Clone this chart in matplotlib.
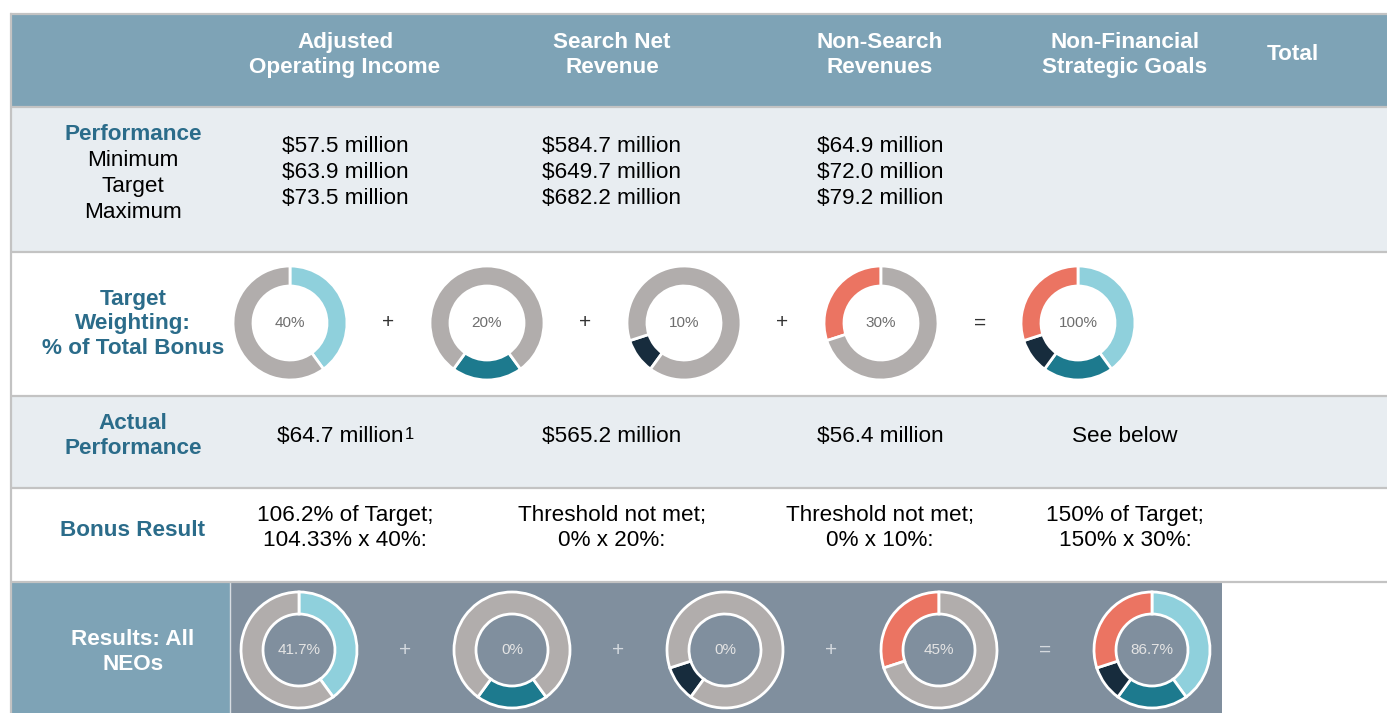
import matplotlib.pyplot as plt
from matplotlib.patches import Rectangle

W, H = 1387, 713

# ---- table content ----
col_headers = ["Adjusted\nOperating Income", "Search Net\nRevenue", "Non-Search\nRevenues",
               "Non-Financial\nStrategic Goals", "Total"]
perf_levels = ["Minimum", "Target", "Maximum"]
perf_min = [57.5, 584.7, 64.9]
perf_target = [63.9, 649.7, 72.0]
perf_max = [73.5, 682.2, 79.2]
actual = [64.7, 565.2, 56.4]
actual_goals = "See below"
bonus_result = ["106.2% of Target;\n104.33% x 40%:",
                "Threshold not met;\n0% x 20%:",
                "Threshold not met;\n0% x 10%:",
                "150% of Target;\n150% x 30%:"]
weights = [40, 20, 10, 30]
result_labels = ["41.7%", "0%", "0%", "45%", "86.7%"]

# ---- style ----
HEAD_BG = "#7ea3b6"
STRIP_BG = "#808f9e"
LIGHT_BG = "#e8edf1"
GRID = "#c3c3c3"
LABEL_C = "#2b6c8a"
GRAY = "#b1adac"
seg_colors = ["#8fd0dc", "#1d7a8e", "#172c3d", "#eb7462"]
FS = 16.2
LS = 1.22
plt.rcParams["font.family"] = ["Liberation Sans", "DejaVu Sans"]

col_x = [345, 612, 880, 1125, 1293]
lab_x = 133


def Y(y):
    # top-based pixel row -> data y (text baseline sits a touch high, so +2)
    return H - y


fig = plt.figure(figsize=(W / 100, H / 100), dpi=100)
ax = fig.add_axes([0, 0, 1, 1])

# backgrounds
ax.add_patch(Rectangle((10, Y(107)), W - 10, 93, color=HEAD_BG, lw=0))
ax.add_patch(Rectangle((10, Y(252)), W - 10, 145, color=LIGHT_BG, lw=0))
ax.add_patch(Rectangle((10, Y(488)), W - 10, 92, color=LIGHT_BG, lw=0))
ax.add_patch(Rectangle((10, 0), 220, Y(582), color=HEAD_BG, lw=0))
ax.add_patch(Rectangle((230, 0), 992, Y(582), color=STRIP_BG, lw=0))
ax.plot([230, 230], [0, Y(582)], color="#d8dde2", lw=1)
for gy in [14, 107, 252, 396, 488, 582]:
    ax.plot([10, W], [Y(gy), Y(gy)], color=GRID, lw=1.6, solid_capstyle="butt")
ax.plot([10.5, 10.5], [0, Y(14)], color=GRID, lw=1.6)

# header
for x, t in zip(col_x, col_headers):
    ax.text(x, Y(55), t, ha="center", va="center", color="white", fontsize=FS,
            fontweight="bold", linespacing=LS)

# row labels
ax.text(lab_x, Y(135), "Performance", ha="center", va="center", color=LABEL_C,
        fontsize=FS, fontweight="bold")
for i, t in enumerate(perf_levels):
    ax.text(lab_x, Y(161 + 25.5 * i), t, ha="center", va="center", fontsize=FS)
ax.text(lab_x, Y(324), "Target\nWeighting:\n% of Total Bonus", ha="center", va="center",
        color=LABEL_C, fontsize=FS, fontweight="bold", linespacing=LS)
ax.text(lab_x, Y(436), "Actual\nPerformance", ha="center", va="center",
        color=LABEL_C, fontsize=FS, fontweight="bold", linespacing=LS)
ax.text(lab_x, Y(530), "Bonus Result", ha="center", va="center",
        color=LABEL_C, fontsize=FS, fontweight="bold")
ax.text(lab_x, Y(652), "Results: All\nNEOs", ha="center", va="center",
        color="white", fontsize=FS, fontweight="bold", linespacing=LS)

# performance values
for x, a, b, c in zip(col_x, perf_min, perf_target, perf_max):
    for j, v in enumerate([a, b, c]):
        ax.text(x, Y(147 + 25.5 * j), f"${v:.1f} million", ha="center", va="center",
                fontsize=FS, parse_math=False)

# actual performance
for i, (x, v) in enumerate(zip(col_x, actual)):
    t = ax.text(x - (5 if i == 0 else 0), Y(436), f"${v:.1f} million", ha="center",
                va="center", fontsize=FS, parse_math=False)
    if i == 0:
        ax.annotate("1", xy=(1, 0.95), xycoords=t, xytext=(1, 0),
                    textcoords="offset points", ha="left", va="top", fontsize=12)
ax.text(col_x[3], Y(436), actual_goals, ha="center", va="center", fontsize=FS)

# bonus result
for x, t in zip(col_x, bonus_result):
    ax.text(x, Y(528), t, ha="center", va="center", fontsize=FS, linespacing=LS)


def donut(cx, cy, vals, cols, start, r, w, label, tcolor):
    ax.pie(vals, colors=cols, startangle=start, counterclock=False, radius=r,
           center=(cx, cy), frame=True,
           wedgeprops=dict(width=w, edgecolor="white", linewidth=2))
    ax.text(cx, cy, label, ha="center", va="center", fontsize=11, color=tcolor,
            family=["Liberation Sans Narrow", "Liberation Sans"])


def donut_row(xs, cy, r, w, labels, tcolor, sign_xs, sign_color):
    cum = 0
    for i, wt in enumerate(weights):
        donut(xs[i], cy, [wt, 100 - wt], [seg_colors[i], GRAY], 90 - 3.6 * cum,
              r, w, labels[i], tcolor)
        cum += wt
    donut(xs[4], cy, weights, seg_colors, 90, r, w, labels[4], tcolor)
    for k, sx in enumerate(sign_xs):
        ax.text(sx, cy, "=" if k == 3 else "+", ha="center", va="center",
                fontsize=15, color=sign_color)


weight_labels = [f"{w}%" for w in weights] + [f"{sum(weights)}%"]
donut_row([290, 487, 684, 881, 1078], Y(323), 57, 20, weight_labels, "#6e6e6e",
          [388, 585, 782, 980], "#333333")
donut_row([299, 512, 725, 939, 1152], Y(650), 58, 22, result_labels, "#e4e4e4",
          [405, 618, 831, 1045], "#d4d9de")

ax.set_xlim(0, W)
ax.set_ylim(0, H)
ax.set_aspect("auto")
ax.axis("off")
fig.savefig("out.png", dpi=100)
